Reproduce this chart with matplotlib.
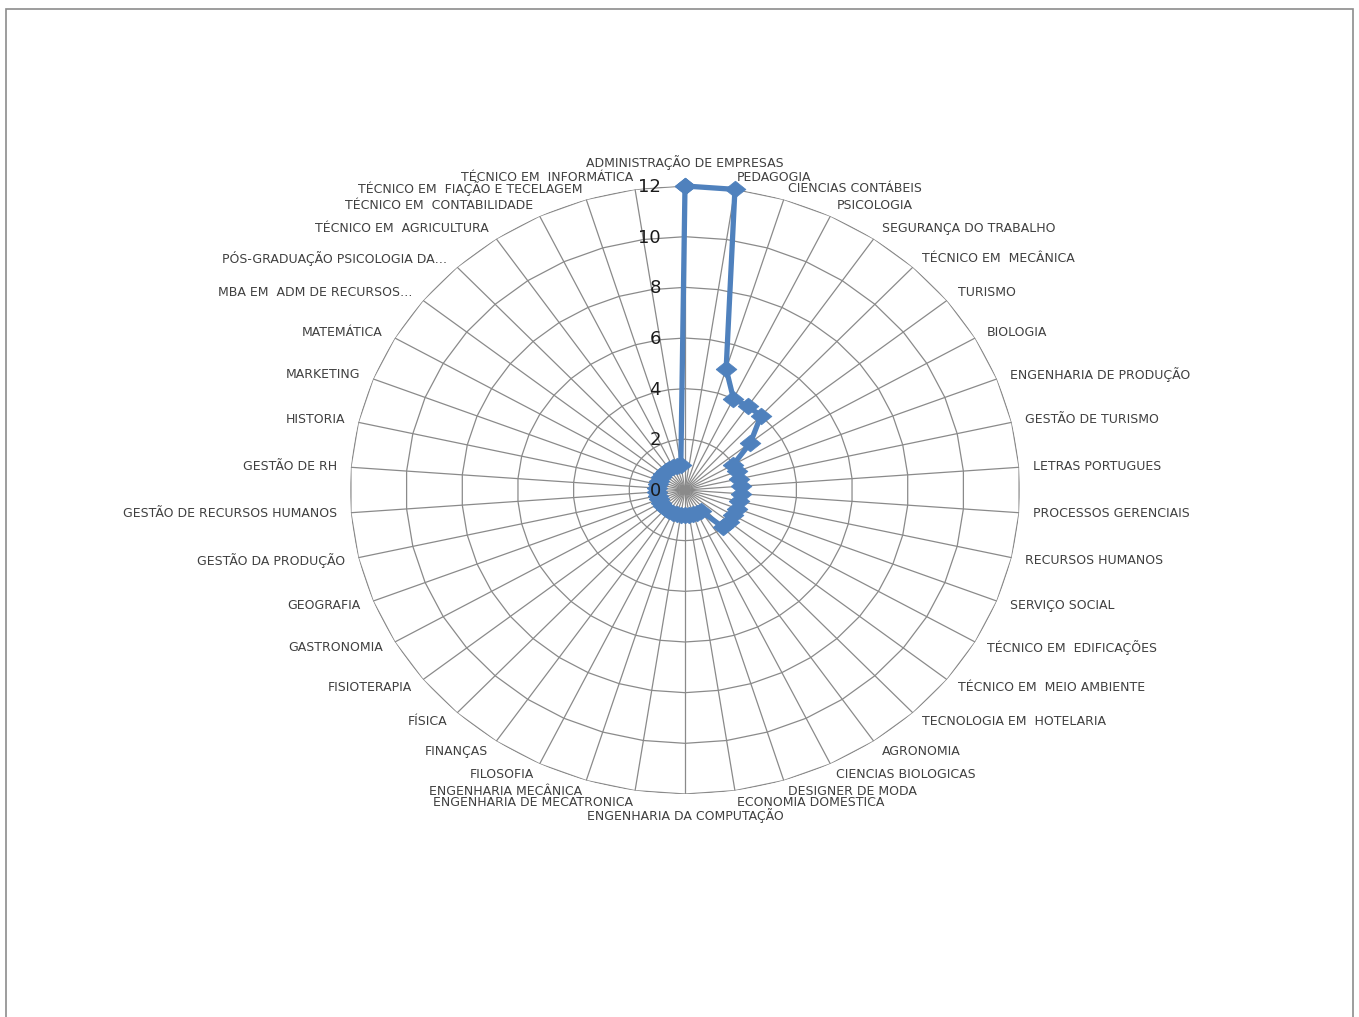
import numpy as np
import matplotlib
matplotlib.use("Agg")
import matplotlib.pyplot as plt

# cursos, no sentido horario a partir do topo
cursos = [
    "ADMINISTRAÇÃO DE EMPRESAS", "PEDAGOGIA", "CIENCIAS CONTÁBEIS", "PSICOLOGIA",
    "SEGURANÇA DO TRABALHO", "TÉCNICO EM  MECÂNICA", "TURISMO", "BIOLOGIA",
    "ENGENHARIA DE PRODUÇÃO", "GESTÃO DE TURISMO", "LETRAS PORTUGUES",
    "PROCESSOS GERENCIAIS", "RECURSOS HUMANOS", "SERVIÇO SOCIAL",
    "TÉCNICO EM  EDIFICAÇÕES", "TÉCNICO EM  MEIO AMBIENTE", "TECNOLOGIA EM  HOTELARIA",
    "AGRONOMIA", "CIENCIAS BIOLOGICAS", "DESIGNER DE MODA", "ECONOMIA DOMESTICA",
    "ENGENHARIA DA COMPUTAÇÃO", "ENGENHARIA DE MECATRONICA", "ENGENHARIA MECÂNICA",
    "FILOSOFIA", "FINANÇAS", "FÍSICA", "FISIOTERAPIA", "GASTRONOMIA", "GEOGRAFIA",
    "GESTÃO DA PRODUÇÃO", "GESTÃO DE RECURSOS HUMANOS", "GESTÃO DE RH", "HISTORIA",
    "MARKETING", "MATEMÁTICA", "MBA EM  ADM DE RECURSOS…",
    "PÓS-GRADUAÇÃO PSICOLOGIA DA…", "TÉCNICO EM  AGRICULTURA",
    "TÉCNICO EM  CONTABILIDADE", "TÉCNICO EM  FIAÇÃO E TECELAGEM",
    "TÉCNICO EM  INFORMÁTICA",
]
valores = [12, 12, 5, 4, 4, 4, 3,
           2, 2, 2, 2, 2, 2, 2, 2, 2, 2,
           1, 1, 1, 1, 1, 1, 1, 1, 1, 1, 1, 1, 1, 1, 1, 1, 1,
           1, 1, 1, 1, 1, 1, 1, 1]
escala = [0, 2, 4, 6, 8, 10, 12]

azul = "#4F81BD"
cinza = "#8a8a8a"

n = len(cursos)
theta = np.linspace(0, 2 * np.pi, n, endpoint=False)

fig = plt.figure(figsize=(13.59, 10.17), dpi=100)
fig.patches.append(plt.Rectangle((5.5 / 1359, -0.01), (1353 - 5.5) / 1359, 1.0007,
                                 transform=fig.transFigure, fill=False,
                                 edgecolor="#8c8c8c", lw=1.2))

ax = fig.add_axes([350 / 1359, 223 / 1017, 670 / 1359, 608 / 1017], projection="polar")
ax.set_theta_zero_location("N")
ax.set_theta_direction(-1)
ax.set_aspect("auto")
ax.set_ylim(0, 12)
ax.set_xticks([])
ax.set_yticks([])
ax.grid(False)
ax.spines["polar"].set_visible(False)
ax.patch.set_alpha(0)

# grade poligonal e raios
tt = np.append(theta, theta[0])
for r in escala[1:]:
    ax.plot(tt, [r] * len(tt), color=cinza, lw=0.9, zorder=1)
for t in theta:
    ax.plot([t, t], [0, escala[-1]], color=cinza, lw=0.9, zorder=1)

# serie
losango = [(-1, 0), (0, 0.8), (1, 0), (0, -0.8), (-1, 0)]
vv = np.append(valores, valores[0])
ax.plot(tt, vv, color=azul, lw=3.8, marker=losango, ms=15,
        markerfacecolor=azul, markeredgecolor=azul, markeredgewidth=0.5,
        zorder=3, clip_on=False)

# rotulos da escala
for r in escala:
    ax.annotate(str(r), xy=(0, r), xytext=(-24, -1), textcoords="offset pixels",
                ha="right", va="center", fontsize=13, color="#1a1a1a",
                annotation_clip=False, zorder=4)

# rotulos das categorias
for i, (t, nome) in enumerate(zip(theta, cursos)):
    s, c = np.sin(t), np.cos(t)
    if abs(s) < 1e-6:
        ha = "center"
        off = (0, 23 if c > 0 else -22)
    else:
        ha = "left" if s > 0 else "right"
        off = (14 * s, 12 * c)
    ax.annotate(nome, xy=(t, escala[-1]), xytext=off, textcoords="offset pixels",
                ha=ha, va="center", fontsize=9, color="#404040",
                annotation_clip=False)

fig.savefig("out.png", dpi=100)
